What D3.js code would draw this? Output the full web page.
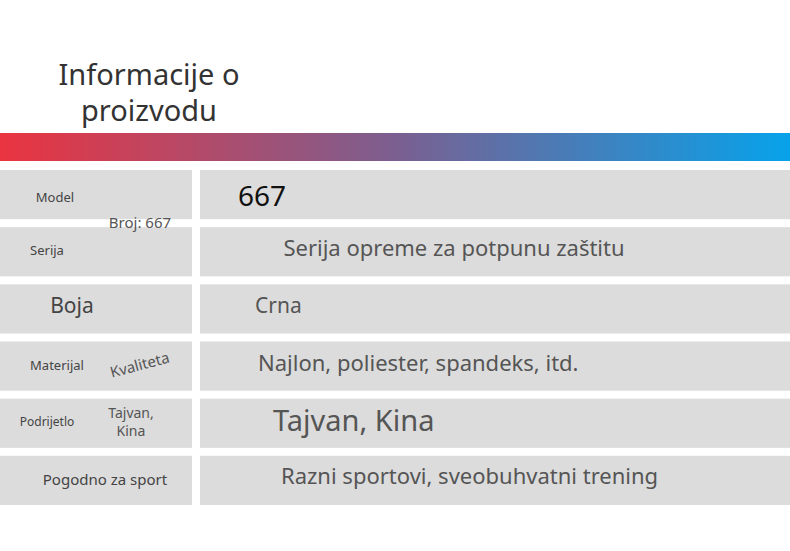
<!DOCTYPE html>
<html><head><meta charset="utf-8">
<script src="https://cdn.jsdelivr.net/npm/d3@7"></script>
<style>body{margin:0;background:#fff}</style>
</head><body><div id="chart"></div>
<script>
// row data
const labels = ['Model', 'Serija', 'Boja', 'Materijal', 'Podrijetlo', 'Pogodno za sport'];
const values = ['667', 'Serija opreme za potpunu zaštitu', 'Crna', 'Najlon, poliester, spandeks, itd.', 'Tajvan, Kina', 'Razni sportovi, sveobuhvatni trening'];
const notes = ['Broj: 667', '', '', 'Kvaliteta', 'Tajvan,|Kina', ''];

const width = 790, height = 551;
const svg = d3.select('#chart').append('svg')
    .attr('width', width).attr('height', height)
    .style('font-family', 'Noto Sans, sans-serif');

const defs = svg.append('defs');
const grad = defs.append('linearGradient').attr('id', 'g');
[['0%', '#ea3440'], ['50%', '#7b5f90'], ['100%', '#07a2ea']].forEach(s =>
    grad.append('stop').attr('offset', s[0]).attr('stop-color', s[1]));

svg.append('rect').attr('x', 0).attr('y', 133).attr('width', width).attr('height', 28)
    .attr('fill', 'url(#g)');

svg.append('text').attr('text-anchor', 'middle').attr('fill', '#333').style('font-size', '29px')
    .selectAll('tspan').data(['Informacije o', 'proizvodu']).enter().append('tspan')
    .attr('x', 149).attr('y', (d, i) => 85 + i * 36).text(d => d);

const y = d3.scaleBand().domain(d3.range(labels.length)).range([170, 505]).paddingInner(0.14).paddingOuter(0);

const rows = svg.selectAll('.row').data(labels).enter().append('g')
    .attr('transform', (d, i) => `translate(0,${y(i)})`);

rows.append('rect').attr('x', 0).attr('width', 192).attr('height', y.bandwidth()).attr('fill', '#dcdcdc');
rows.append('rect').attr('x', 200).attr('width', 590).attr('height', y.bandwidth()).attr('fill', '#dcdcdc');

const labelPos = [[55, 32, 13], [47, 28, 13], [72, 29, 21], [57, 28, 13], [47, 27, 12], [105, 29, 15]];
rows.append('text').attr('text-anchor', 'middle').attr('fill', '#444')
    .attr('x', (d, i) => labelPos[i][0]).attr('y', (d, i) => labelPos[i][1])
    .style('font-size', (d, i) => labelPos[i][2] + 'px').text(d => d);

const valPos = [[238, 36, 28, 'start', '#111'], [454, 29, 22, 'middle', '#555'], [255, 29, 21, 'start', '#555'],
    [258, 29, 22, 'start', '#555'], [273, 32, 29, 'start', '#555'], [281, 28, 22, 'start', '#555']];
rows.append('text')
    .attr('x', (d, i) => valPos[i][0]).attr('y', (d, i) => valPos[i][1])
    .attr('text-anchor', (d, i) => valPos[i][3]).attr('fill', (d, i) => valPos[i][4])
    .style('font-size', (d, i) => valPos[i][2] + 'px').text((d, i) => values[i]);

// small notes
svg.append('text').attr('x', 140).attr('y', 228).attr('text-anchor', 'middle').attr('fill', '#555')
    .style('font-size', '15px').text(notes[0]);
svg.append('text').attr('transform', 'translate(141,370) rotate(-15)').attr('text-anchor', 'middle')
    .attr('fill', '#555').style('font-size', '15px').text(notes[3]);
svg.append('text').attr('text-anchor', 'middle').attr('fill', '#555').style('font-size', '14px')
    .selectAll('tspan').data(notes[4].split('|')).enter().append('tspan')
    .attr('x', 131).attr('y', (d, i) => 418 + i * 18).text(d => d);
</script></body></html>
